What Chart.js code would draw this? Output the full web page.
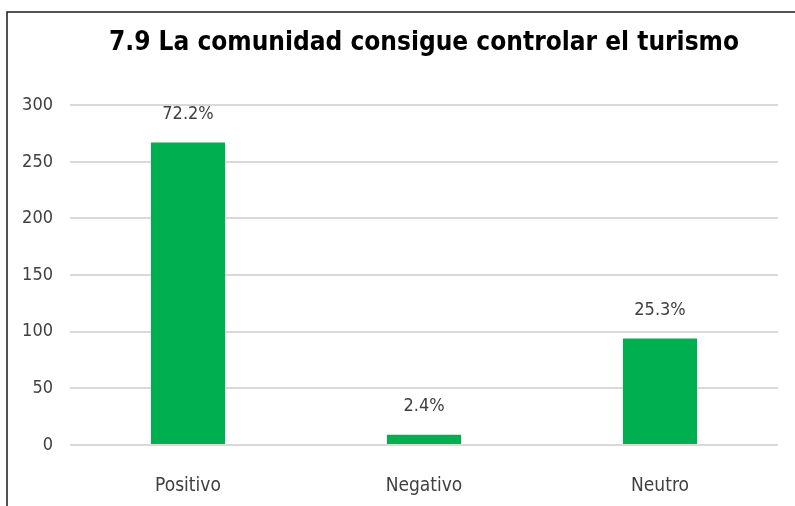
<!DOCTYPE html>
<html>
<head>
<meta charset="utf-8">
<script src="https://cdn.jsdelivr.net/npm/chart.js@4"></script>
<style>
  html, body { margin: 0; padding: 0; background: #fff; overflow: hidden; }
  #wrap { width: 795px; height: 506px; }
</style>
</head>
<body>
<div id="wrap"><canvas id="myChart" width="795" height="506"></canvas></div>
<script>
const categories = ["Positivo", "Negativo", "Neutro"];
const counts = [267, 9, 94];
const percentLabels = ["72.2%", "2.4%", "25.3%"];
const yTicks = [0, 50, 100, 150, 200, 250, 300];

const FONT = '"Liberation Sans Narrow", "DejaVu Sans Condensed", "Arial Narrow", sans-serif';

// frame of the original chart box (only left and top edges are visible)
const frame = {
  id: "frame",
  beforeDraw(chart) {
    const c = chart.ctx;
    c.save();
    c.fillStyle = "#fff";
    c.fillRect(0, 0, chart.width, chart.height);
    c.strokeStyle = "#1a1a1a";
    c.lineWidth = 1.5;
    c.beginPath();
    c.moveTo(7, chart.height);
    c.lineTo(7, 12);
    c.lineTo(chart.width, 12);
    c.stroke();
    c.restore();
  },
};

// percentage labels above each bar
const barLabels = {
  id: "barLabels",
  afterDatasetsDraw(chart) {
    const c = chart.ctx;
    const meta = chart.getDatasetMeta(0);
    c.save();
    c.font = "18px " + FONT;
    c.fillStyle = "#404040";
    c.textAlign = "center";
    c.textBaseline = "middle";
    meta.data.forEach((bar, i) => {
      c.fillText(percentLabels[i], bar.x, bar.y - 28);
    });
    c.restore();
  },
};

new Chart(document.getElementById("myChart"), {
  type: "bar",
  data: {
    labels: categories,
    datasets: [
      {
        data: counts,
        backgroundColor: "#00B050",
        borderWidth: 0,
        categoryPercentage: 1,
        barPercentage: 0.314,
      },
    ],
  },
  options: {
    responsive: false,
    animation: false,
    layout: { padding: { top: 14, left: 6, right: 17, bottom: 0 } },
    plugins: {
      legend: { display: false },
      tooltip: { enabled: false },
      title: {
        display: true,
        text: "7.9 La comunidad consigue controlar el turismo",
        fullSize: false,
        color: "#000",
        font: { family: FONT, size: 26, weight: "bold" },
        padding: { top: 14, bottom: 46 },
      },
    },
    scales: {
      x: {
        grid: { display: false, drawTicks: false },
        border: { display: false },
        afterFit(axis) {
          axis.height = 61;
        },
        ticks: {
          color: "#404040",
          font: { family: FONT, size: 19 },
          padding: 30,
        },
      },
      y: {
        min: 0,
        max: 300,
        afterBuildTicks(axis) {
          axis.ticks = yTicks.map((v) => ({ value: v }));
        },
        afterFit(axis) {
          axis.width = 64;
        },
        grid: { color: "#d9d9d9", lineWidth: 2, drawTicks: false },
        border: { display: false },
        ticks: {
          color: "#404040",
          font: { family: FONT, size: 18 },
          padding: 17,
        },
      },
    },
  },
  plugins: [frame, barLabels],
});
</script>
</body>
</html>
